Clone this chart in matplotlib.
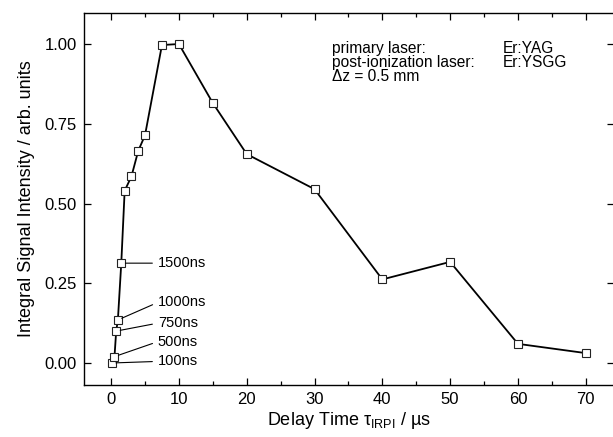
import numpy as np
import matplotlib
matplotlib.use('Agg')
import matplotlib.pyplot as plt
from matplotlib.ticker import MultipleLocator

plt.rcParams['font.family'] = ['Liberation Sans', 'DejaVu Sans']
plt.rcParams['mathtext.fontset'] = 'custom'
plt.rcParams['mathtext.rm'] = 'Liberation Sans'

# delay time (us) and normalised integral signal
delay = [0.1, 0.5, 0.75, 1.0, 1.5, 2, 3, 4, 5, 7.5, 10, 15, 20, 30, 40, 50, 60, 70]
signal = [0.0, 0.02, 0.10, 0.135, 0.313, 0.54, 0.585, 0.665, 0.714, 0.997, 1.0,
          0.815, 0.655, 0.545, 0.262, 0.317, 0.06, 0.031]

# labelled short delays
ann_labels = ['100ns', '500ns', '750ns', '1000ns', '1500ns']
ann_index = [0, 1, 2, 3, 4]
ann_text_y = [0.005, 0.067, 0.125, 0.19, 0.313]

info_left = ['primary laser:', 'post-ionization laser:', '\u0394z = 0.5 mm']
info_right = ['Er:YAG', 'Er:YSGG', '']

fig = plt.figure(figsize=(6.13, 4.37), dpi=100)
ax = fig.add_axes([0.137, 0.119, 0.865, 0.851])

ax.plot(delay, signal, color='black', lw=1.3, marker='s', markersize=6,
        markerfacecolor='white', markeredgecolor='#222222', markeredgewidth=0.8)

for lab, i, ty in zip(ann_labels, ann_index, ann_text_y):
    ax.annotate(lab, xy=(delay[i], signal[i]), xytext=(6.9, ty),
                fontsize=10.5, va='center', ha='left',
                arrowprops=dict(arrowstyle='-', color='black', lw=0.8,
                                shrinkA=2, shrinkB=3, relpos=(0, 0.5)))

for k, (a, b) in enumerate(zip(info_left, info_right)):
    yy = 0.987 - k * 0.045
    ax.text(32.6, yy, a, fontsize=11.2, va='center', ha='left')
    ax.text(57.7, yy, b, fontsize=11.2, va='center', ha='left')

ax.set_xlim(-4, 74.2)
ax.set_ylim(-0.069, 1.097)
ax.xaxis.set_major_locator(MultipleLocator(10))
ax.xaxis.set_minor_locator(MultipleLocator(5))
ax.set_yticks([0, 0.25, 0.5, 0.75, 1.0])
ax.set_yticklabels(['0.00', '0.25', '0.50', '0.75', '1.00'])

ax.tick_params(which='both', direction='in', top=True, right=True, labelsize=12, pad=5)
ax.tick_params(which='major', length=5, width=0.9)
ax.tick_params(which='minor', length=3, width=0.9)
for s in ax.spines.values():
    s.set_linewidth(1.0)

ax.set_xlabel('Delay Time \u03c4$_{\\mathregular{IRPI}}$ / \u00b5s', fontsize=13, labelpad=2)
ax.set_ylabel('Integral Signal Intensity / arb. units', fontsize=13, labelpad=7)

fig.savefig('out.png', dpi=100)
